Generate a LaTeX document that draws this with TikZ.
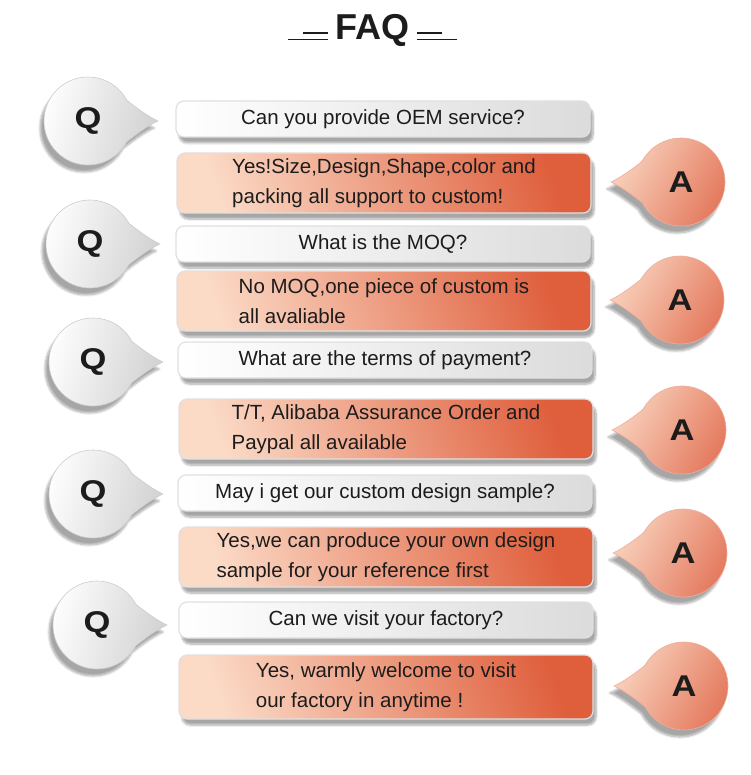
\documentclass[tikz,border=0pt]{standalone}
\usepackage{fontspec}
\setmainfont{Liberation Sans}
\usepackage{tikz}
\usetikzlibrary{shadows.blur}

\definecolor{peach}{HTML}{FBDAC6}
\definecolor{salmon}{HTML}{F4B49B}
\definecolor{coral}{HTML}{DF5F3D}
\definecolor{bubpeach}{HTML}{F9D3BE}
\definecolor{bubcoral}{HTML}{E3765A}
\definecolor{ink}{HTML}{1C1C1C}

% speech bubble: #1 style, #2 name, #3 centre, #4 side (1 tip right, -1 tip left), #5 letter
\newcommand{\faqbubble}[5]{%
  \begin{scope}[shift={#3}, xscale=#4]
    \path[#1] (28:44) arc[start angle=28, end angle=332, radius=44]
      .. controls (50,-12) and (61,-4) .. (70,0)
      .. controls (61,4) and (50,12) .. cycle;
  \end{scope}
  \node[letter] (#2) at #3 {#5};
}

\begin{document}
\begin{tikzpicture}[x=1pt, y=-1pt,
    qbox/.style={rectangle, rounded corners=8pt, minimum width=414pt, minimum height=36pt,
      draw=black!12, line width=1.2pt, left color=white, right color=black!14,
      text=ink, font=\fontsize{20.5}{30}\selectfont,
      blur shadow={shadow xshift=3pt, shadow yshift=-6pt, shadow opacity=35, shadow blur steps=8}},
    abox/.style={qbox, minimum height=60pt, align=left, left color=peach, middle color=salmon,
      right color=coral, shading angle=110},
    qbub/.style={left color=white, right color=black!18, shading angle=75,
      draw=black!20, line width=0.6pt,
      blur shadow={shadow xshift=-4pt, shadow yshift=-7pt, shadow opacity=35, shadow blur steps=8}},
    abub/.style={left color=bubpeach, right color=bubcoral, shading angle=60,
      draw=bubcoral!60, line width=0.6pt,
      blur shadow={shadow xshift=-4pt, shadow yshift=-7pt, shadow opacity=35, shadow blur steps=8}},
    letter/.style={text=ink, font=\fontsize{30}{30}\selectfont\bfseries, xscale=1.15}]

    \useasboundingbox (0,0) rectangle (750,775);

    % Title with its two little rules
    \node[text=ink, font=\fontsize{36}{36}\selectfont\bfseries] (title) at (372,30) {FAQ};
    \draw[ink, line width=0.8pt] ([xshift=-3pt]title.base west) -- ++(-40,0);
    \draw[ink, line width=1.2pt] ([xshift=-3pt, yshift=6pt]title.base west) -- ++(-25,0);
    \draw[ink, line width=0.8pt] ([xshift=4pt]title.base east) -- ++(40,0);
    \draw[ink, line width=1.2pt] ([xshift=4pt, yshift=6pt]title.base east) -- ++(25,0);

    % Questions
    \node[qbox] (q1) at (383,119) {Can you provide OEM service?};
    \node[qbox] (q2) at (383,244) {What is the MOQ?};
    \node[qbox] (q3) at (385,360) {What are the terms of payment?};
    \node[qbox] (q4) at (385,493) {May i get our custom design sample?};
    \node[qbox] (q5) at (386,620) {Can we visit your factory?};

    % Answers
    \node[abox] (a1) at (384,183) {Yes!Size,Design,Shape,color and\\packing all support to custom!};
    \node[abox] (a2) at (384,301) {No MOQ,one piece of custom is\\all avaliable};
    \node[abox] (a3) at (386,429) {T/T, Alibaba Assurance Order and\\Paypal all available};
    \node[abox] (a4) at (386,557) {Yes,we can produce your own design\\sample for your reference first};
    \node[abox, minimum height=64pt] (a5) at (386,687) {Yes, warmly welcome to visit\\our factory in anytime !};

    % Q bubbles
    \faqbubble{qbub}{bq1}{(88,121)}{1}{Q}
    \faqbubble{qbub}{bq2}{(90,244)}{1}{Q}
    \faqbubble{qbub}{bq3}{(93,362)}{1}{Q}
    \faqbubble{qbub}{bq4}{(93,494)}{1}{Q}
    \faqbubble{qbub}{bq5}{(97,625)}{1}{Q}

    % A bubbles
    \faqbubble{abub}{ba1}{(681,182)}{-1}{A}
    \faqbubble{abub}{ba2}{(680,300)}{-1}{A}
    \faqbubble{abub}{ba3}{(682,430)}{-1}{A}
    \faqbubble{abub}{ba4}{(683,553)}{-1}{A}
    \faqbubble{abub}{ba5}{(684,686)}{-1}{A}

\end{tikzpicture}
\end{document}
